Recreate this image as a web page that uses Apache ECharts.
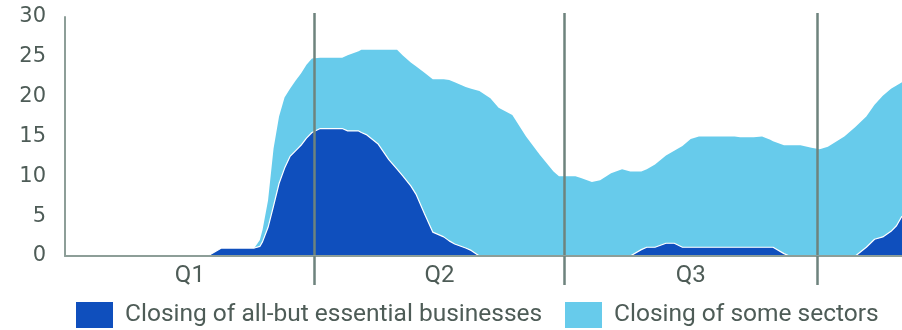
<!DOCTYPE html>
<html>
<head>
<meta charset="utf-8">
<script src="https://cdn.jsdelivr.net/npm/echarts@6/dist/echarts.min.js"></script>
<style>
  html, body { margin: 0; padding: 0; background: #ffffff; }
  #chart { width: 902px; height: 330px; }
</style>
</head>
<body>
<div id="chart"></div>
<script>
// Number of countries applying each type of business closure, 2020
const dates = [
  '2020-01-01', '2020-02-22', '2020-02-27', '2020-03-10', '2020-03-12', '2020-03-13',
  '2020-03-15', '2020-03-17', '2020-03-19', '2020-03-21', '2020-03-23', '2020-03-25',
  '2020-03-27', '2020-03-29', '2020-03-31', '2020-04-03', '2020-04-11', '2020-04-13',
  '2020-04-17', '2020-04-18', '2020-04-20', '2020-04-24', '2020-04-28', '2020-05-01',
  '2020-05-03', '2020-05-06', '2020-05-08', '2020-05-11', '2020-05-14', '2020-05-18',
  '2020-05-20', '2020-05-22', '2020-05-26', '2020-05-28', '2020-05-31', '2020-06-04',
  '2020-06-07', '2020-06-12', '2020-06-17', '2020-06-22', '2020-06-27', '2020-06-29',
  '2020-07-05', '2020-07-07', '2020-07-11', '2020-07-14', '2020-07-18', '2020-07-22',
  '2020-07-25', '2020-07-29', '2020-07-31', '2020-08-03', '2020-08-07', '2020-08-10',
  '2020-08-13', '2020-08-16', '2020-08-19', '2020-09-01', '2020-09-03', '2020-09-08',
  '2020-09-11', '2020-09-14', '2020-09-15', '2020-09-19', '2020-09-21', '2020-09-25',
  '2020-09-29', '2020-10-02', '2020-10-05', '2020-10-11', '2020-10-15', '2020-10-19',
  '2020-10-22', '2020-10-25', '2020-10-28', '2020-10-30', '2020-11-01'
];

const allButEssential = [
  0, 0, 1, 1, 1.2, 1.8,
  3.6, 6.3, 9.1, 11.0, 12.5, 13.2,
  13.9, 14.8, 15.5, 16.0, 16.0, 15.7,
  15.7, 15.5, 15.2, 14.1, 12.1, 10.9,
  10.1, 8.8, 7.7, 5.3, 3.0, 2.4,
  1.9, 1.5, 1.0, 0.7, 0, 0,
  0, 0, 0, 0, 0, 0,
  0, 0, 0, 0, 0, 0,
  0, 0.8, 1.1, 1.1, 1.6, 1.6,
  1.1, 1.1, 1.1, 1.1, 1.1, 1.1,
  1.1, 1.1, 1.1, 0.3, 0, 0,
  0, 0, 0, 0, 0, 1.1,
  2.1, 2.4, 3.1, 3.8, 5.0
];

const someSectors = [
  0, 0, 0, 0, 0.8, 1.5,
  3.4, 7.2, 8.4, 8.9, 8.5, 8.8,
  9.0, 9.2, 9.3, 8.9, 8.9, 9.5,
  10.0, 10.4, 10.7, 11.8, 13.8, 15.0,
  15.1, 15.5, 16.1, 17.7, 19.2, 19.8,
  20.2, 20.3, 20.2, 20.3, 20.7, 19.8,
  18.6, 17.7, 15.0, 12.7, 10.6, 10.0,
  10.0, 9.8, 9.3, 9.5, 10.4, 10.9,
  10.6, 9.8, 9.8, 10.4, 11.0, 11.6,
  12.7, 13.6, 13.9, 13.9, 13.8, 13.8,
  13.9, 13.5, 13.3, 13.6, 13.9, 13.9,
  13.6, 13.4, 13.7, 15.0, 16.2, 16.4,
  16.9, 17.7, 17.9, 17.6, 16.8
];

const seriesNames = ['Closing of all-but essential businesses', 'Closing of some sectors'];
const quarterLabels = ['Q1', 'Q2', 'Q3'];
const quarterBounds = ['2020-01-01', '2020-04-01', '2020-07-01', '2020-10-01'];
const axisStart = '2020-01-01';
const axisEnd = '2020-11-01';
const yMax = 30;
const yStep = 5;

const DARK_BLUE = '#0f4fbd';
const LIGHT_BLUE = '#67cbeb';
const TEXT = '#4e5c57';
const AXIS = '#8d9e98';
const DIVIDER = '#6e837d';

const DAY = 86400000;
function localTime(s) {
  const [y, m, d] = s.split('-').map(Number);
  return new Date(y, m - 1, d).getTime();
}
// Day offsets from the start of the axis, used by the quarter axis
function dayOf(s) {
  return Math.round((localTime(s) - localTime(axisStart)) / DAY);
}

const spanDays = dayOf(axisEnd);
const boundaryDays = quarterBounds.slice(1).map(dayOf);
const labelDays = quarterLabels.map((_, i) =>
  (dayOf(quarterBounds[i]) + dayOf(quarterBounds[i + 1])) / 2);

function quarterName(value) {
  let best = -1, bestDist = Infinity;
  labelDays.forEach((d, i) => {
    const dist = Math.abs(d - value);
    if (dist < bestDist) { bestDist = dist; best = i; }
  });
  return bestDist < 1 ? quarterLabels[best] : '';
}

const chart = echarts.init(document.getElementById('chart'), null, { renderer: 'canvas' });

const legendBase = {
  orient: 'horizontal',
  top: 302,
  padding: 0,
  itemWidth: 37,
  itemHeight: 26,
  icon: 'rect',
  selectedMode: false,
  itemStyle: { borderWidth: 0 },
  textStyle: {
    fontFamily: 'Roboto',
    fontSize: 24.5,
    color: TEXT,
    padding: [11, 0, 0, 7]
  }
};

chart.setOption({
  animation: false,
  backgroundColor: '#ffffff',
  grid: { left: 65, right: 0, top: 17, bottom: 74, containLabel: false },
  legend: [
    Object.assign({}, legendBase, { left: 76, data: [seriesNames[0]] }),
    Object.assign({}, legendBase, { left: 565, data: [seriesNames[1]] })
  ],
  xAxis: [
    {
      // quarter axis: baseline, dividers and quarter names
      type: 'value',
      position: 'bottom',
      min: 0,
      max: spanDays,
      z: 4,
      axisLine: { show: true, lineStyle: { color: AXIS, width: 2 } },
      axisTick: {
        show: true,
        customValues: boundaryDays,
        length: 29,
        lineStyle: { color: DIVIDER, width: 2.5 }
      },
      splitLine: { show: true, lineStyle: { color: DIVIDER, width: 2.5 } },
      axisLabel: {
        show: true,
        customValues: labelDays,
        hideOverlap: false,
        showMinLabel: true,
        showMaxLabel: true,
        margin: 8,
        fontFamily: 'Roboto',
        fontSize: 24,
        color: TEXT,
        formatter: quarterName
      }
    },
    {
      // calendar axis carrying the data
      type: 'time',
      show: false,
      min: axisStart,
      max: axisEnd
    },
    {
      // divider stubs above the plot
      type: 'value',
      position: 'top',
      min: 0,
      max: spanDays,
      z: 4,
      axisLine: { show: false },
      axisTick: {
        show: true,
        customValues: boundaryDays,
        length: 4,
        lineStyle: { color: DIVIDER, width: 2.5 }
      },
      splitLine: { show: false },
      axisLabel: { show: false }
    }
  ],
  yAxis: {
    type: 'value',
    min: 0,
    max: yMax,
    interval: yStep,
    axisLine: { show: true, lineStyle: { color: AXIS, width: 2 } },
    axisTick: { show: false },
    splitLine: { show: false },
    axisLabel: {
      margin: 19,
      fontFamily: 'DejaVu Sans',
      fontSize: 21,
      color: TEXT
    }
  },
  series: [
    {
      name: seriesNames[0],
      type: 'line',
      xAxisIndex: 1,
      stack: 'closures',
      z: 3,
      symbol: 'none',
      showSymbol: false,
      data: dates.map((d, i) => [d, allButEssential[i]]),
      itemStyle: { color: DARK_BLUE },
      lineStyle: { color: '#ffffff', width: 1.2 },
      areaStyle: { color: DARK_BLUE, opacity: 1 }
    },
    {
      name: seriesNames[1],
      type: 'line',
      xAxisIndex: 1,
      stack: 'closures',
      z: 2,
      symbol: 'none',
      showSymbol: false,
      data: dates.map((d, i) => [d, someSectors[i]]),
      itemStyle: { color: LIGHT_BLUE },
      lineStyle: { width: 0, color: LIGHT_BLUE },
      areaStyle: { color: LIGHT_BLUE, opacity: 1 }
    }
  ]
});
</script>
</body>
</html>
